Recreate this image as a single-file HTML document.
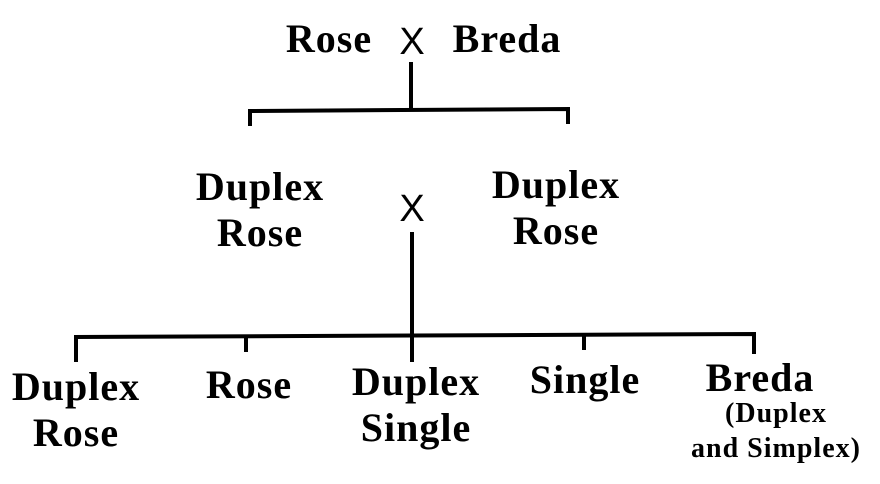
<!DOCTYPE html>
<html><head><style>
body{margin:0;width:880px;height:484px;background:#fff;position:relative;overflow:hidden;font-family:"Liberation Serif",serif;font-weight:bold;color:#000}
.t{position:absolute;font-size:40px;line-height:46px;letter-spacing:1px;text-align:center;white-space:nowrap;transform:translateX(-50%)}
.x{position:absolute;font-family:"Liberation Sans",sans-serif;font-weight:normal;font-size:38px;line-height:40px;transform:translateX(-50%)}
.s{font-size:28px;line-height:35px;letter-spacing:1px}
</style></head><body>
<svg width="880" height="484" style="position:absolute;left:0;top:0">
<g stroke="#000" stroke-width="4" fill="none">
<line x1="411" y1="62" x2="411" y2="110"/>
<polyline points="250,126 250,111 568,109 568,124"/>
<line x1="412" y1="232" x2="412" y2="362"/>
<polyline points="76,362 76,337 754,334 754,354"/>
<line x1="246" y1="336" x2="246" y2="352"/>
<line x1="584" y1="335" x2="584" y2="350"/>
</g></svg>
<div class="t" style="left:329px;top:16px">Rose</div>
<div class="x" style="left:412px;top:22px">X</div>
<div class="t" style="left:507px;top:16px">Breda</div>
<div class="t" style="left:260px;top:164px">Duplex<br>Rose</div>
<div class="x" style="left:412px;top:189px">X</div>
<div class="t" style="left:556px;top:162px">Duplex<br>Rose</div>
<div class="t" style="left:76px;top:364px">Duplex<br>Rose</div>
<div class="t" style="left:249px;top:362px">Rose</div>
<div class="t" style="left:416px;top:359px">Duplex<br>Single</div>
<div class="t" style="left:585px;top:357px">Single</div>
<div class="t" style="left:760px;top:355px">Breda</div>
<div class="t s" style="left:776px;top:396px">(Duplex<br>and Simplex)</div>
</body></html>
